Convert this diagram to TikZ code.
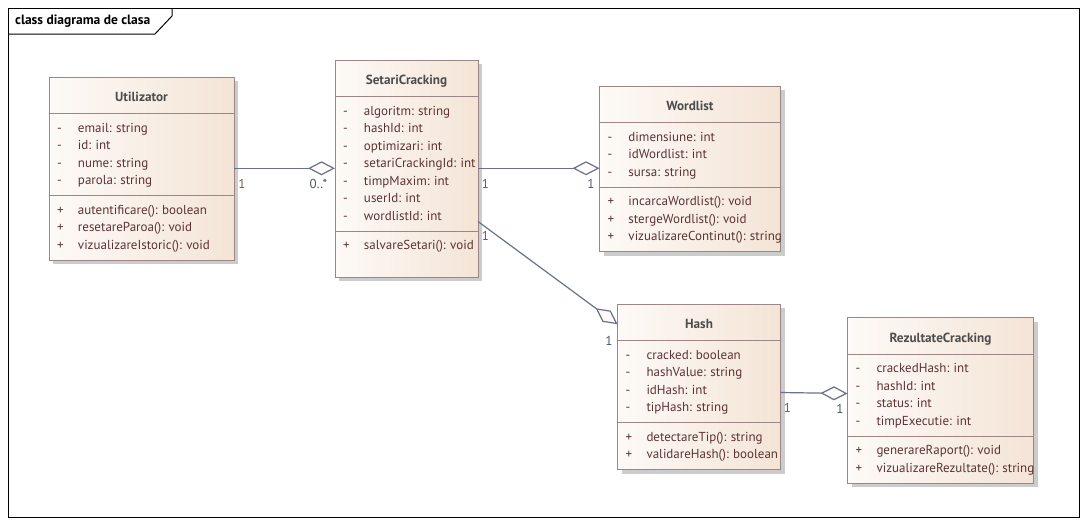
\documentclass[tikz,border=0pt]{standalone}
\usepackage{fontspec}
\setmainfont{PT Sans}
\frenchspacing
\usetikzlibrary{arrows.meta, positioning, shadows}
\definecolor{boxline}{HTML}{9C8686}
\definecolor{boxleft}{HTML}{FDFAF7}
\definecolor{boxright}{HTML}{F4E4D6}
\definecolor{membertext}{HTML}{5A3434}
\definecolor{titletext}{HTML}{4D4D4D}
\definecolor{assocline}{HTML}{68718F}
\definecolor{srclabel}{HTML}{7A5C3C}
\definecolor{dstlabel}{HTML}{4D5670}
\tikzstyle{every node}=[font=\fontsize{13}{17.5}\selectfont]
\tikzstyle{classbox}=[draw=boxline, line width=1pt, outer sep=0pt, rectangle, left color=boxleft, right color=boxright, drop shadow={shadow xshift=4pt, shadow yshift=-4pt, fill=black!20, opacity=1}]
\tikzstyle{classname}=[classbox, font=\fontsize{13.2}{15}\selectfont\bfseries, text=titletext, minimum height=36.5pt, inner sep=0pt, text height=13pt, text depth=0pt]
\tikzstyle{members}=[classbox, text=membertext, align=left, inner xsep=0pt, inner ysep=6pt]
\tikzstyle{assoc}=[draw=assocline, line width=1.2pt, -{Diamond[length=27pt, width=14pt, fill=boxleft, line width=1.2pt]}]
\tikzstyle{mult}=[inner sep=0pt, font=\fontsize{13}{15}\selectfont]
\newcommand{\member}[2]{\rule[-5pt]{0pt}{17.5pt}\hspace*{8pt}\makebox[21pt][l]{#1}\mbox{#2}}

\begin{document}
\begin{tikzpicture}[x=1pt, y=-1pt]
    \useasboundingbox (0,0) rectangle (1088,525);
    % frame
    \draw[line width=1pt] (8,8) rectangle (1079,517);
    \draw[line width=1pt] (8,34) -- (155,34) -- (172,16) -- (172,8);
    \node[anchor=west, inner sep=0pt, font=\fontsize{13.5}{15}\selectfont\bfseries] (frameTitle) at (15,20.7) {class diagrama de clasa};
    % classes
    \node[classname, minimum width=185pt, anchor=north west] (uName) at (49,77) {Utilizator};
    \node[members, text width=185pt, below=0pt of uName] (uAttr) {\member{-}{email: string}\\\member{-}{id: int}\\\member{-}{nume: string}\\\member{-}{parola: string}};
    \node[members, text width=185pt, below=0pt of uAttr] (uOps) {\member{+}{autentificare(): boolean}\\\member{+}{resetareParoa(): void}\\\member{+}{vizualizareIstoric(): void}};
    \node[classname, minimum width=143pt, anchor=north west] (sName) at (335,60) {SetariCracking};
    \node[members, text width=143pt, below=0pt of sName] (sAttr) {\member{-}{algoritm: string}\\\member{-}{hashId: int}\\\member{-}{optimizari: int}\\\member{-}{setariCrackingId: int}\\\member{-}{timpMaxim: int}\\\member{-}{userId: int}\\\member{-}{wordlistId: int}};
    \node[members, text width=143pt, text depth=21.5pt, below=0pt of sAttr] (sOps) {\member{+}{salvareSetari(): void}};
    \node[classname, minimum width=181pt, anchor=north west] (wName) at (599.5,86) {Wordlist};
    \node[members, text width=181pt, below=0pt of wName] (wAttr) {\member{-}{dimensiune: int}\\\member{-}{idWordlist: int}\\\member{-}{sursa: string}};
    \node[members, text width=181pt, below=0pt of wAttr] (wOps) {\member{+}{incarcaWordlist(): void}\\\member{+}{stergeWordlist(): void}\\\member{+}{vizualizareContinut(): string}};
    \node[classname, minimum width=163pt, anchor=north west] (hName) at (617.5,304) {Hash};
    \node[members, text width=163pt, below=0pt of hName] (hAttr) {\member{-}{cracked: boolean}\\\member{-}{hashValue: string}\\\member{-}{idHash: int}\\\member{-}{tipHash: string}};
    \node[members, text width=163pt, below=0pt of hAttr] (hOps) {\member{+}{detectareTip(): string}\\\member{+}{validareHash(): boolean}};
    \node[classname, minimum width=186pt, anchor=north west] (rName) at (847.5,317.5) {RezultateCracking};
    \node[members, text width=186pt, below=0pt of rName] (rAttr) {\member{-}{crackedHash: int}\\\member{-}{hashId: int}\\\member{-}{status: int}\\\member{-}{timpExecutie: int}};
    \node[members, text width=186pt, below=0pt of rAttr] (rOps) {\member{+}{generareRaport(): void}\\\member{+}{vizualizareRezultate(): string}};
    % associations
    \draw[assoc] ([yshift=-13.8pt]uAttr.east) coordinate (uOut) -- (uOut -| sAttr.west)
        node[mult, text=srclabel, at start, xshift=8pt, yshift=-15.4pt] {1}
        node[mult, text=dstlabel, at end, xshift=-16.5pt, yshift=-15.4pt] {0..*};
    \draw[assoc] ([yshift=-4.5pt]sAttr.east) coordinate (sOut) -- (sOut -| wAttr.west)
        node[mult, text=srclabel, at start, xshift=7.5pt, yshift=-16pt] {1}
        node[mult, text=dstlabel, at end, xshift=-8.5pt, yshift=-16pt] {1};
    \draw[assoc] ([yshift=-57.75pt]sAttr.east) -- ([yshift=-2pt]hName.west)
        node[mult, text=srclabel, at start, xshift=7.5pt, yshift=-14pt] {1}
        node[mult, text=dstlabel, at end, xshift=-8.5pt, yshift=-16.7pt] {1};
    \draw[assoc] ([yshift=-11pt]hAttr.east) -- ([yshift=1.5pt]rAttr.west)
        node[mult, text=srclabel, at start, xshift=7pt, yshift=-15pt] {1}
        node[mult, text=dstlabel, at end, xshift=-7.5pt, yshift=-15.5pt] {1};
\end{tikzpicture}
\end{document}
